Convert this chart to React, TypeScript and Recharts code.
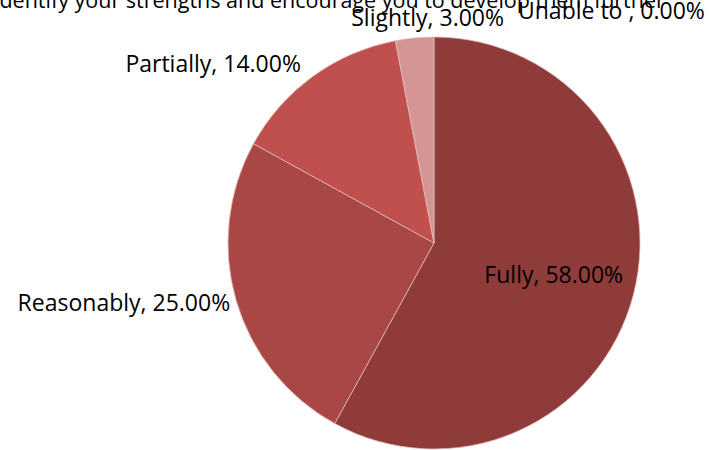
import React from 'react';
import { PieChart, Pie, Cell } from 'recharts';

const categories = ['Fully', 'Reasonably', 'Partially', 'Slightly', 'Unable to '];
const shares = [58, 25, 14, 3, 0];
const colors = ['#8E3B39', '#A84745', '#C0504D', '#D49594', '#E6B9B8'];
const titleText = 'identify your strengths and encourage you to develop them further';

// Excel-ish label placement: radius factor, anchor, nudge
const labelPlacement = [
  { r: 0.6, anchor: 'middle', dx: 0, dy: 0 },
  { r: 1, anchor: 'end', dx: -6, dy: 2 },
  { r: 1, anchor: 'end', dx: -12, dy: -13 },
  { r: 1, anchor: 'middle', dx: 13, dy: -21 },
  { r: 1, anchor: 'start', dx: 84, dy: -27 },
];

const data = categories.map((name, i) => ({ name, value: shares[i] }));

const FONT = '"Open Sans", Lato, sans-serif';
const RAD = Math.PI / 180;

const renderLabel = (props: any) => {
  const { cx, cy, midAngle, outerRadius, index, name, value } = props;
  const p = labelPlacement[index];
  const r = outerRadius * p.r;
  const x = cx + r * Math.cos(-midAngle * RAD) + p.dx;
  const y = cy + r * Math.sin(-midAngle * RAD) + p.dy;
  return (
    <text
      x={x}
      y={y}
      textAnchor={p.anchor}
      dominantBaseline="central"
      fill="#000"
      fontSize={23}
      fontFamily={FONT}
    >
      {`${name}, ${value.toFixed(2)}%`}
    </text>
  );
};

export default function App() {
  return (
    <div style={{ position: 'absolute', left: 0, top: 0, width: 722, height: 450, background: '#fff' }}>
      <PieChart width={722} height={450} margin={{ top: 0, right: 0, bottom: 0, left: 0 }}>
        <text x={-6} y={8} fontSize={21.5} fontFamily={FONT} fill="#000">
          {titleText}
        </text>
        <Pie
          data={data}
          dataKey="value"
          nameKey="name"
          cx={434}
          cy={243}
          outerRadius={206}
          startAngle={90}
          endAngle={-270}
          stroke="#E6B9B8"
          strokeWidth={0.75}
          label={renderLabel}
          labelLine={false}
          isAnimationActive={false}
        >
          {data.map((d, i) => (
            <Cell key={d.name} fill={colors[i]} />
          ))}
        </Pie>
      </PieChart>
    </div>
  );
}
